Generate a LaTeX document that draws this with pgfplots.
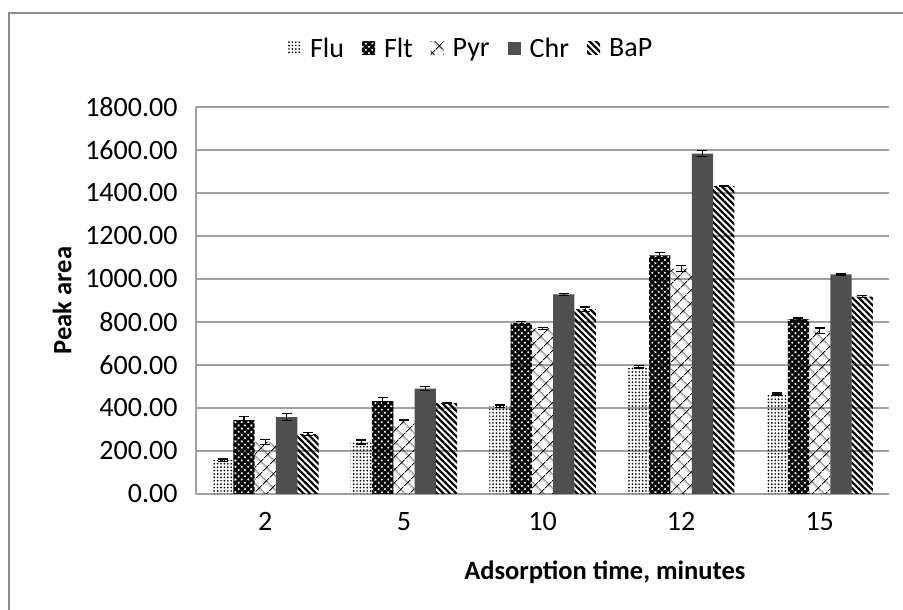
\documentclass[border=0pt]{standalone}
\usepackage{pgfplots}
\pgfplotsset{compat=1.18}
\usetikzlibrary{patterns,patterns.meta}
\usepackage{fontspec}
\setmainfont{Carlito}
\definecolor{gridgray}{HTML}{A0A0A0}
\definecolor{chrgray}{HTML}{4F4F4F}
\begin{document}
\begin{tikzpicture}[x=1bp,y=1bp]
\useasboundingbox (-196,-116) rectangle (707,494);
\draw[gray!90,line width=1.2bp] (-187,-116) -- (-187,481) -- (707,481);
\begin{axis}[
  at={(0,0)}, anchor=south west,
  scale only axis, width=693bp, height=387bp,
  ybar=0pt, bar width=21.3bp,
  xmin=-0.5, xmax=4.5, ymin=0, ymax=1800,
  xtick={0,1,2,3,4}, xticklabels={2,5,10,12,15},
  ytick={0,200,...,1800},
  yticklabel={\pgfmathprintnumber[fixed,fixed zerofill,precision=2,1000 sep={}]{\tick}},
  /pgf/number format/assume math mode=true,
  font=\fontsize{26.5bp}{30bp}\selectfont,
  tick label style={font=\fontsize{28bp}{32bp}\selectfont},
  yticklabel style={xshift=-15bp},
  xticklabel style={yshift=-15bp},
  major tick length=0pt,
  axis x line*=bottom, axis y line*=left,
  axis line style={gridgray, line width=1.2bp},
  ymajorgrids, grid style={gridgray, line width=1.2bp},
  xlabel={\textbf{Adsorption time, minutes}},
  ylabel={\textbf{Peak area}},
  every axis x label/.style={at={(axis description cs:0.590,-0.2016)}, anchor=center},
  every axis y label/.style={at={(axis description cs:-0.193,0.5)}, rotate=90, anchor=center},
  legend style={at={(axis description cs:0.397,1.152)}, anchor=center, draw=none, fill=none,
    legend columns=-1, font=\fontsize{28bp}{32bp}\selectfont,
    /tikz/every odd column/.append style={column sep=7bp},
    /tikz/every even column/.append style={column sep=16bp}},
  legend image code/.code={\path[#1, draw=none] (0bp,-6.5bp) rectangle (13bp,6.5bp);},
  error bars/y dir=both, error bars/y explicit,
  error bars/error bar style={black, line width=1.2bp},
  error bars/error mark options={rotate=90, mark size=5bp, line width=1.2bp, black},
]
\addplot[draw=none, pattern={Dots[distance=3.4bp,radius=0.95bp]}] coordinates {
 (0,158) +- (0,5) (1,242) +- (0,9) (2,409) +- (0,5) (3,591) +- (0,5) (4,465) +- (0,5)};
\addlegendentry{Flu}
\addplot[draw=none, pattern={Hatch[angle=45,distance=4.5bp,line width=2.6bp]}] coordinates {
 (0,344) +- (0,15) (1,432) +- (0,15) (2,795) +- (0,6) (3,1110) +- (0,12) (4,813) +- (0,6)};
\addlegendentry{Flt}
\addplot[draw=none, pattern={Hatch[angle=45,distance=10bp,line width=1bp]}] coordinates {
 (0,242) +- (0,10) (1,344) +- (0,3) (2,770) +- (0,5) (3,1048) +- (0,15) (4,760) +- (0,12)};
\addlegendentry{Pyr}
\addplot[draw=none, fill=chrgray] coordinates {
 (0,358) +- (0,18) (1,490) +- (0,10) (2,928) +- (0,5) (3,1583) +- (0,13) (4,1022) +- (0,3)};
\addlegendentry{Chr}
\addplot[draw=none, pattern={Lines[angle=-45,distance=4.5bp,line width=2.2bp]}] coordinates {
 (0,278) +- (0,7) (1,423) +- (0,3) (2,860) +- (0,10) (3,1432) +- (0,3) (4,918) +- (0,5)};
\addlegendentry{BaP}
\end{axis}
\end{tikzpicture}
\end{document}
